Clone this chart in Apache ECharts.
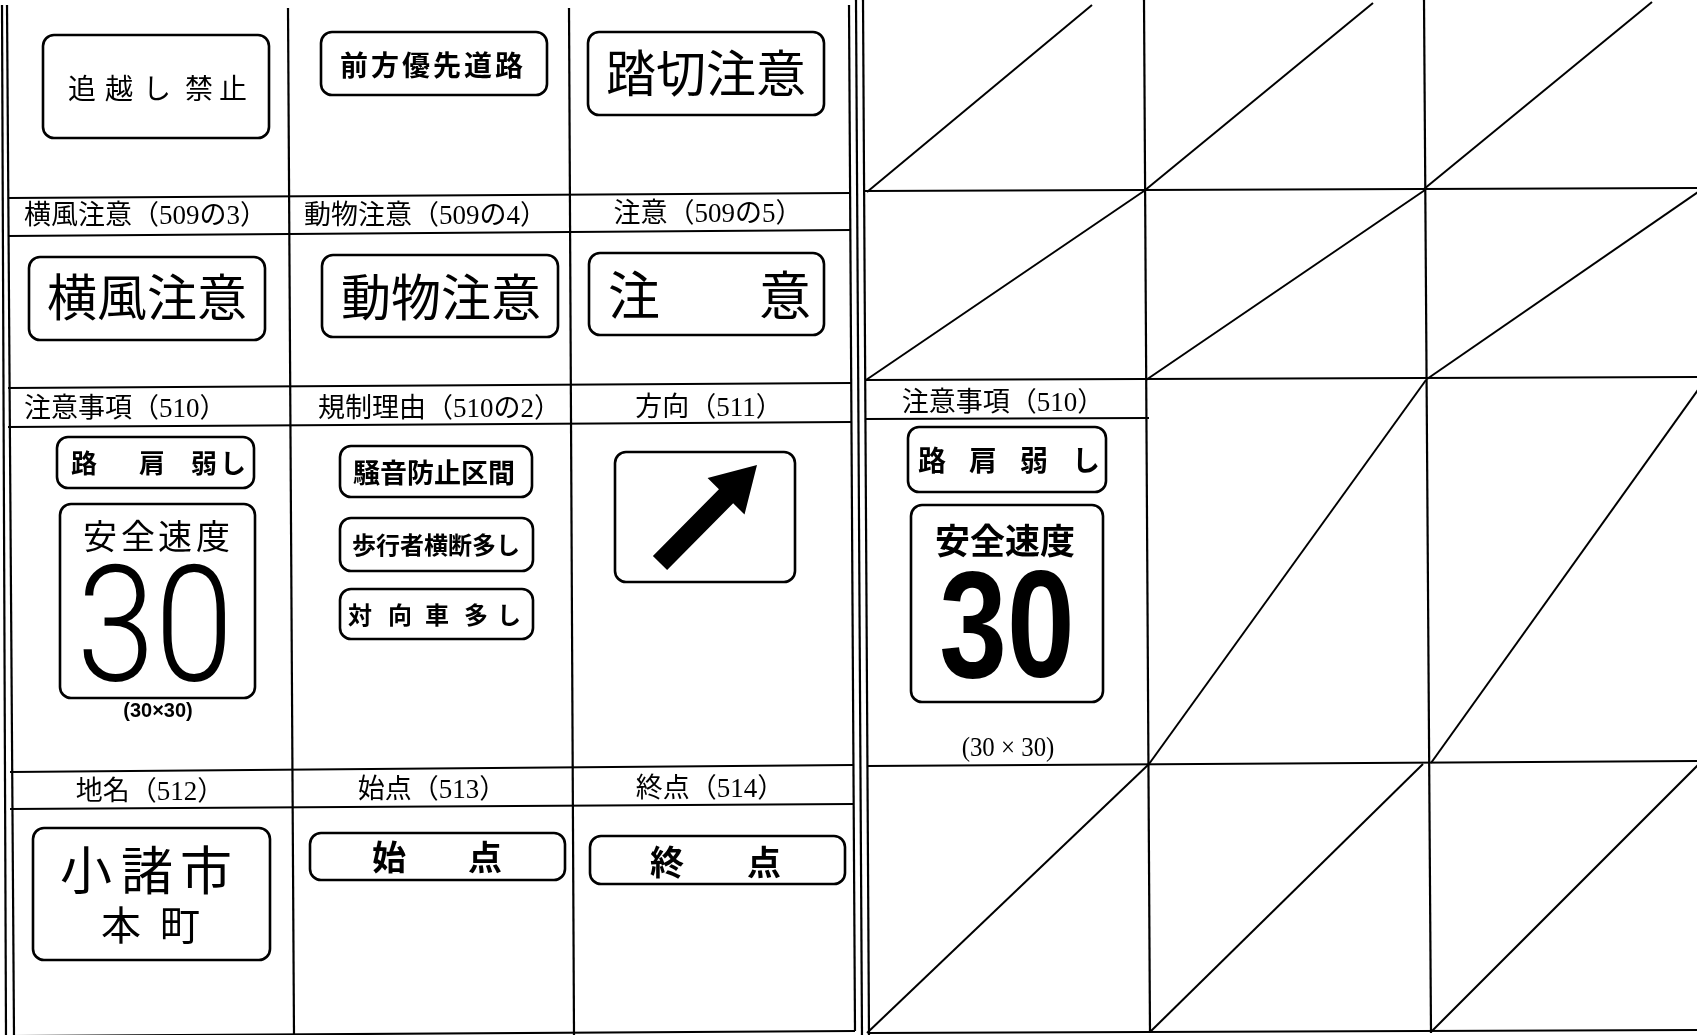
<!DOCTYPE html>
<html><head><meta charset="utf-8">
<script src="https://cdn.jsdelivr.net/npm/echarts@6/dist/echarts.min.js"></script>
<style>html,body{margin:0;padding:0;background:#fff}#c{width:1697px;height:1035px}</style>
</head><body><div id="c"></div>
<script>
// ================= DATA (text content read from the sheet) =================
const headerLabels = ['横風注意（509の3）','動物注意（509の4）','注意（509の5）',
  '注意事項（510）','規制理由（510の2）','方向（511）',
  '地名（512）','始点（513）','終点（514）','注意事項（510）'];
const signLabels = ['追越し禁止','前方優先道路','踏切注意','横風注意','動物注意','注意',
  '路肩弱し','安全速度','30','(30×30)','騒音防止区間','歩行者横断多し','対向車多し',
  '小諸市','本町','始点','終点','路肩弱し','安全速度','30','(30 × 30)'];

// ================= LAYOUT (sheet coordinates, axis units) =================
const W = 1697, H = 1035;
const ruleSegments = [
  // left panel verticals
  [2,5,6,1035],[7,5,14,1035],[288,8,294,1035],[569,8,574,1035],
  [849,5,855,1031],[856,0,862,1035],[863,0,869,1035],
  // left panel horizontals
  [8,198,851,193],[8,236,851,230],[8,388,851,383],[8,427,851,422],
  [10,772,853,765],[10,809,853,804],[12,1036,855,1031],
  // right panel
  [1144,0,1150,1033],[1424,0,1431,1033],
  [864,191,1697,188],[865,380,1697,377],[865,419,1149,418],
  [867,766,1697,761],[869,1033,1697,1030]
];
const diagonalSegments = [
  [867,192,1092,5],[1144,191,1373,3],[1424,189,1652,2],
  [866,380,1144,191],[1146,380,1425,190],[1427,379,1698,192],
  [1149,764,1426,380],[1431,763,1705,380],
  [867,1033,1149,764],[1150,1032,1423,764],[1432,1031,1700,763]
];
const boxRects = [
  [43,35,269,138],[321,32,547,95],[588,32,824,115],
  [29,257,265,340],[322,255,558,337],[589,253,824,335],
  [57,437,254,488],[60,504,255,698],
  [340,446,532,497],[340,518,533,571],[340,589,533,639],
  [615,452,795,582],
  [33,828,270,960],[310,833,565,880],[590,836,845,884],
  [908,427,1106,492],[911,505,1103,702]
];
const arrowSegment = [[660,563,757,465]];

// header positions: x, y, align
const headerPos = [[24,217,'left'],[304,217,'left'],[708,215,'center'],
  [24,410,'left'],[318,410,'left'],[709,409,'center'],
  [150,793,'center'],[432,791,'center'],[710,790,'center'],[1003,404,'center']];
// sign positions: character centres (or single centre), y, style
const signPos = [
  [[82,119,157,199,233],88,'plain28'],
  [[354,385,416,447,478,509],65,'bold28'],
  [[706],73,'plain50'],
  [[147],297,'plain50'],
  [[441],297,'plain50'],
  [[634,785],295,'plain52'],
  [[84,152,204,233],463,'bold26'],
  [[100,138,175,213],536,'plain34'],
  [[155],639,'numLight'],
  [[158],711,'smallBold'],
  [[434],473,'bold27'],
  [[436],545,'bold24'],
  [[360,400,437,476,509],615,'bold24'],
  [[86,147,206],870,'plain52'],
  [[121,180],925,'plain40'],
  [[389,485],857,'bold34'],
  [[667,764],862,'bold34'],
  [[932,983,1034,1086],460,'bold28'],
  [[1005],541,'plain35'],
  [[1007],635,'numBold'],
  [[1008],749,'smallSerif']
];
const CJK = '"Noto Sans CJK JP"';
const textStyles = {
  head:{size:27,weight:'normal',family:'"Liberation Serif","Noto Sans CJK JP"'},
  plain28:{size:28,weight:'normal',family:CJK},
  bold28:{size:28,weight:'bold',family:CJK},
  plain50:{size:50,weight:'normal',family:CJK},
  plain52:{size:52,weight:'normal',family:CJK},
  bold26:{size:26,weight:'bold',family:CJK},
  plain34:{size:34,weight:'normal',family:CJK},
  plain35:{size:35,weight:'bold',family:CJK},
  plain40:{size:40,weight:'normal',family:CJK},
  bold27:{size:27,weight:'bold',family:CJK},
  bold24:{size:24,weight:'bold',family:CJK},
  bold34:{size:34,weight:'bold',family:CJK},
  numLight:{size:162,weight:300,family:'Roboto',sx:0.87},
  numBold:{size:152,weight:'bold',family:'"Liberation Sans"',sx:0.8},
  smallBold:{size:20,weight:'bold',family:'"Liberation Sans"'},
  smallSerif:{size:27,weight:'normal',family:'"Liberation Serif"',sx:0.92}
};

// build glyph runs from labels + positions
const runs = [];
headerLabels.forEach((t,i)=>{
  const p = headerPos[i];
  runs.push({text:t,x:p[0],y:p[1],align:p[2],style:'head'});
});
signLabels.forEach((t,i)=>{
  const p = signPos[i];
  const xs = p[0];
  if (xs.length === 1) runs.push({text:t,x:xs[0],y:p[1],align:'center',style:p[2]});
  else {
    const chars = Array.from(t);
    chars.forEach((ch,k)=>runs.push({text:ch,x:xs[k],y:p[1],align:'center',style:p[2]}));
  }
});

// ================= CHART =================
const chart = echarts.init(document.getElementById('c'), null, {renderer:'canvas'});
function segRender(width){
  return function(params, api){
    const a = api.coord([api.value(0), api.value(1)]);
    const b = api.coord([api.value(2), api.value(3)]);
    return {type:'line', shape:{x1:a[0],y1:a[1],x2:b[0],y2:b[1]},
      style:{stroke:'#000', lineWidth:width}};
  };
}
const option = {
  animation:false,
  backgroundColor:'#ffffff',
  grid:{left:0,right:0,top:0,bottom:0},
  xAxis:{type:'value',min:0,max:W,show:false},
  yAxis:{type:'value',min:0,max:H,inverse:true,show:false},
  series:[
    {type:'custom',name:'rules',data:ruleSegments,renderItem:segRender(2.2),silent:true},
    {type:'custom',name:'diagonals',data:diagonalSegments,renderItem:segRender(2),silent:true},
    {type:'custom',name:'boxes',data:boxRects,silent:true,
      renderItem:function(params, api){
        const a = api.coord([api.value(0), api.value(1)]);
        const b = api.coord([api.value(2), api.value(3)]);
        return {type:'rect', shape:{x:a[0],y:a[1],width:b[0]-a[0],height:b[1]-a[1],r:11},
          style:{fill:'#fff', stroke:'#000', lineWidth:2.6}};
      }},
    {type:'custom',name:'arrow',data:arrowSegment,silent:true,
      renderItem:function(params, api){
        const t = api.coord([api.value(0), api.value(1)]);
        const h = api.coord([api.value(2), api.value(3)]);
        const dx = h[0]-t[0], dy = h[1]-t[1], L = Math.hypot(dx,dy);
        const ux = dx/L, uy = dy/L, nx = -uy, ny = ux;
        const sw = 10, hl = 44, hw = 26;
        const bx = h[0]-ux*hl, by = h[1]-uy*hl;
        const pts = [[t[0]+nx*sw,t[1]+ny*sw],[bx+nx*sw,by+ny*sw],[bx+nx*hw,by+ny*hw],
          [h[0],h[1]],[bx-nx*hw,by-ny*hw],[bx-nx*sw,by-ny*sw],[t[0]-nx*sw,t[1]-ny*sw]];
        return {type:'polygon', shape:{points:pts}, style:{fill:'#000'}};
      }},
    {type:'custom',name:'texts',data:runs.map(r=>[r.x,r.y]),silent:true,
      renderItem:function(params, api){
        const r = runs[params.dataIndex];
        const st = textStyles[r.style];
        const p = api.coord([api.value(0), api.value(1)]);
        return {type:'text', x:p[0], y:p[1], scaleX:st.sx||1, scaleY:st.sy||1,
          style:{text:r.text, fill:'#000', fontSize:st.size, fontWeight:st.weight,
            fontFamily:st.family, align:r.align, verticalAlign:'middle'}};
      }}
  ]
};
chart.setOption(option);
</script></body></html>
